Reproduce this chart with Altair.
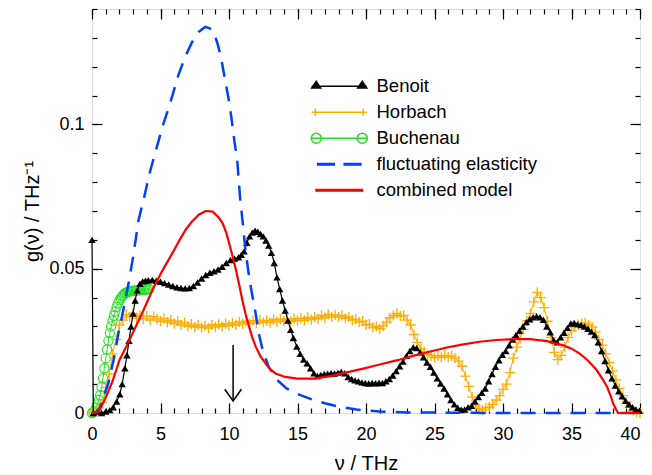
import altair as alt
import pandas as pd

# ---------------- data ----------------
benoit_x = [0.0, 0.1, 0.4, 0.7, 1.0, 1.3, 1.55, 1.8, 2.03, 2.2, 2.4, 2.55, 2.7, 2.85, 3.0, 3.15, 3.3, 3.5, 3.7, 3.9,
            4.1, 4.4, 4.7, 5.0, 5.3, 5.6, 5.9, 6.2, 6.5, 6.8, 7.1, 7.4, 7.7, 8.0, 8.3, 8.6, 8.9, 9.2, 9.5, 9.8,
            10.1, 10.4, 10.7, 10.9, 11.1, 11.3, 11.5, 11.7, 11.9, 12.1, 12.3, 12.5, 12.7, 12.9, 13.1, 13.3, 13.5, 13.7, 13.9, 14.1,
            14.3, 14.5, 14.7, 14.95, 15.2, 15.45, 15.7, 15.95, 16.2, 16.45, 16.7, 16.95, 17.2, 17.45, 17.7, 17.95, 18.2, 18.45, 18.7, 18.95,
            19.2, 19.45, 19.7, 19.95, 20.2, 20.45, 20.7, 20.95, 21.2, 21.45, 21.7, 21.95, 22.2, 22.45, 22.7, 22.95, 23.2, 23.45, 23.7, 23.95,
            24.2, 24.45, 24.7, 24.95, 25.2, 25.45, 25.7, 25.95, 26.2, 26.45, 26.7, 26.95, 27.2, 27.45, 27.7, 27.95, 28.2, 28.45, 28.7, 28.95,
            29.2, 29.45, 29.7, 29.95, 30.2, 30.45, 30.7, 30.95, 31.2, 31.45, 31.7, 31.95, 32.2, 32.45, 32.7, 32.95, 33.2, 33.45, 33.7, 33.95,
            34.2, 34.45, 34.7, 34.95, 35.2, 35.45, 35.7, 35.95, 36.2, 36.45, 36.7, 36.95, 37.2, 37.45, 37.7, 37.95, 38.2, 38.45, 38.7, 38.95,
            39.2, 39.45, 39.7, 39.95]
benoit_y = [0.060, 0.0, 0.0005, 0.0, 0.0005, 0.001, 0.002, 0.004, 0.0065, 0.010, 0.0155, 0.020, 0.025, 0.030, 0.0345, 0.039, 0.0425, 0.0448, 0.0456, 0.0458,
            0.0460, 0.0461, 0.0458, 0.0455, 0.0450, 0.0445, 0.0440, 0.0436, 0.0433, 0.0432, 0.0433, 0.0440, 0.0452, 0.0466, 0.0478, 0.0486, 0.0491, 0.0497, 0.0507, 0.0520,
            0.0530, 0.0535, 0.0540, 0.0548, 0.0560, 0.0590, 0.0612, 0.0625, 0.0632, 0.0628, 0.0620, 0.0612, 0.0598, 0.0580, 0.0555, 0.0520, 0.0470, 0.0430, 0.0390, 0.0355,
            0.0320, 0.0288, 0.0260, 0.0230, 0.0205, 0.0185, 0.0172, 0.0155, 0.0138, 0.0128, 0.0132, 0.0135, 0.0136, 0.0138, 0.0137, 0.0140, 0.0143, 0.0138, 0.0125, 0.0118,
            0.0113, 0.0110, 0.0106, 0.0104, 0.0102, 0.0104, 0.0103, 0.0104, 0.0104, 0.0110, 0.0118, 0.0130, 0.0145, 0.0162, 0.0178, 0.0198, 0.0215, 0.0228, 0.0225, 0.0210,
            0.0193, 0.0175, 0.0160, 0.0140, 0.0120, 0.0102, 0.0085, 0.0065, 0.0045, 0.0030, 0.0018, 0.0011, 0.0012, 0.0020, 0.0025, 0.0040, 0.0055, 0.0070, 0.0085, 0.0110,
            0.0135, 0.0160, 0.0183, 0.0202, 0.0215, 0.0235, 0.0255, 0.0270, 0.0285, 0.0300, 0.0315, 0.0325, 0.0332, 0.0335, 0.0332, 0.0323, 0.0300, 0.0280, 0.0252, 0.0245,
            0.0262, 0.0278, 0.0295, 0.0310, 0.0312, 0.0308, 0.0305, 0.0300, 0.0292, 0.0282, 0.0270, 0.0245, 0.0215, 0.0180, 0.0148, 0.0120, 0.0095, 0.0075, 0.0058, 0.0042,
            0.0030, 0.0020, 0.0012, 0.0008]

horbach_x = [0.0] + [round(0.25 * i, 2) for i in range(1, 161)]
horbach_y = [0.0,
             0.0005, 0.0018, 0.0038, 0.0088, 0.0135, 0.0205, 0.0255, 0.0305,
             0.0322, 0.0341, 0.0332, 0.0345, 0.0328, 0.0338, 0.0326, 0.0336,
             0.0322, 0.0334, 0.0325, 0.0318, 0.0328, 0.0315, 0.0322, 0.0310,
             0.0318, 0.0305, 0.0312, 0.0300, 0.0308, 0.0298, 0.0305, 0.0296,
             0.0302, 0.0294, 0.0305, 0.0298, 0.0307, 0.0300, 0.0310, 0.0303,
             0.0312, 0.0305, 0.0316, 0.0309, 0.0318, 0.0310, 0.0320, 0.0312,
             0.0322, 0.0314, 0.0320, 0.0313, 0.0324, 0.0316, 0.0326, 0.0318,
             0.0325, 0.0317, 0.0327, 0.0320, 0.0328, 0.0321, 0.0331, 0.0324,
             0.0332, 0.0326, 0.0338, 0.0330, 0.0342, 0.0333, 0.0340, 0.0332,
             0.0338, 0.0328, 0.0333, 0.0322, 0.0325, 0.0315, 0.0318, 0.0305,
             0.0308, 0.0296, 0.0300, 0.0292, 0.0302, 0.0315, 0.0330, 0.0338,
             0.0345, 0.0336, 0.0338, 0.0322, 0.0305, 0.0272, 0.0245, 0.0222,
             0.0212, 0.0202, 0.0198, 0.0192, 0.0199, 0.0193, 0.0200, 0.0194,
             0.0198, 0.0190, 0.0180, 0.0162, 0.0128, 0.0092, 0.0055, 0.0025,
             0.0015, 0.0010, 0.0018, 0.0020, 0.0030, 0.0045, 0.0060, 0.0082,
             0.0100, 0.0140, 0.0190, 0.0228, 0.0258, 0.0290, 0.0320, 0.0345,
             0.0385, 0.0418, 0.0400, 0.0365, 0.0318, 0.0262, 0.0210, 0.0185,
             0.0200, 0.0228, 0.0262, 0.0285, 0.0298, 0.0305, 0.0310, 0.0312,
             0.0305, 0.0298, 0.0280, 0.0255, 0.0235, 0.0205, 0.0175, 0.0145,
             0.0115, 0.0085, 0.0060, 0.0038, 0.0020, 0.0008, 0.0003, 0.0]

buchenau_x = [round(0.1 * i, 1) for i in range(43)]
buchenau_y = [0.0, 0.0003, 0.0008, 0.0018, 0.0030, 0.0045, 0.0062, 0.0090, 0.0120, 0.0155,
              0.0190, 0.0220, 0.0250, 0.0277, 0.0300, 0.0320, 0.0337, 0.0352, 0.0368, 0.0380,
              0.0390, 0.0398, 0.0405, 0.0410, 0.0415, 0.0418, 0.0420, 0.0421, 0.0422, 0.0423,
              0.0423, 0.0425, 0.0424, 0.0426, 0.0425, 0.0427, 0.0426, 0.0428, 0.0427, 0.0429,
              0.0428, 0.0430, 0.0430]

fluct_x = [0.0, 0.3, 0.5, 0.8, 1.2, 1.6, 1.93, 2.3, 2.67, 3.0, 3.4, 3.76, 4.2, 4.6, 5.2, 5.7, 6.3, 6.8, 7.3, 7.77,
           8.26, 8.6, 8.9, 9.23, 9.5, 9.72, 10.0, 10.2, 10.4, 10.6, 10.8, 11.0, 11.2, 11.5, 11.9, 12.2, 12.5, 12.9, 13.5, 14.2,
           15.0, 16.0, 17.0, 18.0, 19.3, 21.0, 23.0, 26.0, 30.0, 40.0]
fluct_y = [0.0, 0.0003, 0.001, 0.005, 0.0104, 0.019, 0.0277, 0.036, 0.045, 0.054, 0.0669, 0.0738, 0.083, 0.090, 0.100, 0.1073, 0.117, 0.1234, 0.1285, 0.132,
           0.1338, 0.1333, 0.132, 0.1269, 0.121, 0.1153, 0.108, 0.1015, 0.094, 0.0877, 0.075, 0.066, 0.0565, 0.046, 0.0357, 0.027, 0.021, 0.016, 0.0115, 0.0085,
           0.0066, 0.0048, 0.0034, 0.0022, 0.0012, 0.0005, 0.0002, 0.0001, 0.0, 0.0]

combined_x = [0.0, 0.5, 1.02, 1.5, 2.0, 2.5, 2.96, 3.7, 4.42, 5.1, 5.88, 6.4, 6.85, 7.3, 7.82, 8.3, 8.8, 9.2, 9.52, 9.8,
              10.0, 10.25, 10.5, 10.75, 10.98, 11.2, 11.46, 11.7, 11.95, 12.3, 12.68, 13.0, 13.4, 14.1, 15.0, 16.2, 17.4, 18.6, 19.8, 21.0,
              22.3, 23.5, 24.7, 25.9, 27.1, 28.3, 29.5, 30.8, 32.0, 33.2, 34.4, 35.0, 35.6, 36.2, 36.85, 37.3, 37.6, 37.85, 38.05, 38.25,
              38.4, 40.0]
combined_y = [0.0, 0.0005, 0.0055, 0.011, 0.0183, 0.023, 0.0276, 0.035, 0.0427, 0.049, 0.0555, 0.060, 0.0636, 0.0664, 0.0688, 0.070, 0.0698, 0.068, 0.0659, 0.0625,
              0.059, 0.0545, 0.0497, 0.0443, 0.039, 0.0345, 0.030, 0.0262, 0.023, 0.0196, 0.0171, 0.0152, 0.0137, 0.0125, 0.0119, 0.0119, 0.0128, 0.0141, 0.0154, 0.0168,
              0.0183, 0.0199, 0.0213, 0.0227, 0.0238, 0.0247, 0.0253, 0.0256, 0.0256, 0.0249, 0.0235, 0.0223, 0.0206, 0.0182, 0.0148, 0.0115, 0.009, 0.006, 0.0032, 0.0012,
              0.0, 0.0]

arrow_x = [10.3]
arrow_top = [0.0236]
arrow_tip = [0.0042]

series_names = ["Benoit", "Horbach", "Buchenau", "fluctuating elasticity", "combined model"]
series_colors = ["#000000", "#ffad00", "#22e022", "#0040ff", "#ff0000"]

x_major = list(range(0, 41, 5))
x_minor = list(range(0, 41))
y_major = [0, 0.05, 0.1]
y_minor = [round(0.01 * i, 2) for i in range(15)]

# ---------------- styles ----------------
FONT = "Liberation Sans"
W, H = 548, 404
xs = alt.Scale(domain=[0, 40], nice=False, zero=False)
ys = alt.Scale(domain=[0, 0.14], nice=False, zero=False)


def tri_fill(c):
    parts = [f"M{c-1.12:.2f},0.42L{c:.2f},-1.25L{c+1.12:.2f},0.42Z"]
    yv = 0.42
    while yv > -1.25:
        hw = 1.12 * (yv + 1.25) / 1.67
        parts.append(f"M{c-hw:.2f},{yv:.2f}L{c+hw:.2f},{yv:.2f}")
        yv -= 0.22
    return "".join(parts)


def circ(c, r=1.25):
    return f"M{c+r:.2f},0A{r},{r} 0 1,1 {c-r:.2f},0A{r},{r} 0 1,1 {c+r:.2f},0"


shape_paths = [
    "M-6.9,0L6.9,0" + tri_fill(-5.75) + tri_fill(5.75),
    "M-6.9,0L6.9,0M-6,-0.9L-6,0.9M6,-0.9L6,0.9",
    "M-6.9,0L6.9,0" + circ(-5.75) + circ(5.75),
    "M-5.6,-0.19L-1.05,-0.19M1.05,-0.19L5.6,-0.19M-5.6,0.19L-1.05,0.19M1.05,0.19L5.6,0.19",
    "M-6,-0.19L6,-0.19M-6,0.19L6,0.19",
]


def tick_axis(orient, values, size):
    # ticks pointing into the plot (negative size given through an expression)
    return alt.Axis(orient=orient, values=values, labels=False, domain=False, grid=False, ticks=True,
                    tickColor="black", tickWidth=1.2, tickSize={"expr": str(-size)}, title=None)


ax_x_labels = alt.Axis(orient="bottom", values=x_major, ticks=False, domain=False, grid=False,
                       labelFont=FONT, labelFontSize=18, labelColor="black", labelPadding=12,
                       labelFlush=False,
                       labelAlign={"condition": {"test": "datum.value >= 40", "value": "right"},
                                   "value": "center"},
                       title="ν / THz", titleFont=FONT, titleFontSize=20,
                       titleFontWeight="normal", titleColor="black", titlePadding=10)
ax_y_labels = alt.Axis(orient="left", values=y_major, format="~g", ticks=False, domain=False, grid=False,
                       labelFont=FONT, labelFontSize=18, labelColor="black", labelPadding=8,
                       labelFlush=False, title="g(ν) / THz⁻¹", titleFont=FONT, titleFontSize=20,
                       titleFontWeight="normal", titleColor="black", titlePadding=6)

x_axes = [ax_x_labels,
          tick_axis("bottom", x_major, 10), tick_axis("bottom", x_minor, 5),
          tick_axis("top", x_major, 10), tick_axis("top", x_minor, 5)]
y_axes = [ax_y_labels,
          tick_axis("left", y_major, 10), tick_axis("left", y_minor, 5),
          tick_axis("right", y_major, 10), tick_axis("right", y_minor, 5)]

df_b = pd.DataFrame({"x": benoit_x, "y": benoit_y})
df_h = pd.DataFrame({"x": horbach_x, "y": horbach_y})
df_c = pd.DataFrame({"x": buchenau_x, "y": buchenau_y})
df_f = pd.DataFrame({"x": fluct_x, "y": fluct_y})
df_m = pd.DataFrame({"x": combined_x, "y": combined_y})
df_a = pd.DataFrame({"x": arrow_x, "y": arrow_top, "y2": arrow_tip})
df_leg = pd.DataFrame({"series": series_names, "x": [-10] * 5, "y": [0.0] * 5})


def enc(i=None):
    xa = x_axes[i] if i is not None else None
    ya = y_axes[i] if i is not None else None
    return dict(x=alt.X("x:Q", scale=xs, axis=xa), y=alt.Y("y:Q", scale=ys, axis=ya))


buch_line = alt.Chart(df_c).mark_line(color=series_colors[2], strokeWidth=1).encode(**enc(0))
buch_pts = alt.Chart(df_c).mark_point(shape="circle", filled=False, color=series_colors[2],
                                      strokeWidth=1.1, size=85, opacity=1).encode(**enc(1))
horb_line = alt.Chart(df_h).mark_line(color=series_colors[1], strokeWidth=1).encode(**enc(2))
horb_pts = alt.Chart(df_h).mark_point(shape="M-1,0L1,0M0,-1L0,1", filled=False, color=series_colors[1],
                                      strokeWidth=1.3, size=105, opacity=1).encode(**enc(3))
ben_line = alt.Chart(df_b).mark_line(color="black", strokeWidth=1.2).encode(**enc(4))
ben_pts = alt.Chart(df_b).mark_point(shape="triangle-up", filled=True, color="black",
                                     size=55, opacity=1).encode(**enc())
fluct_line = alt.Chart(df_f).mark_line(color=series_colors[3], strokeWidth=2.5,
                                       strokeDash=[15, 10]).encode(**enc())
comb_line = alt.Chart(df_m).mark_line(color=series_colors[4], strokeWidth=2.2).encode(**enc())

arrow_shaft = alt.Chart(df_a).mark_rule(color="black", strokeWidth=1.5).encode(
    x=alt.X("x:Q", scale=xs, axis=None), y=alt.Y("y:Q", scale=ys, axis=None), y2="y2:Q")
arrow_head = alt.Chart(df_a).mark_point(shape="M-1.04,-1.46L0,0L1.04,-1.46", filled=False,
                                        color="black", strokeWidth=1.5, size=256, opacity=1).encode(
    x=alt.X("x:Q", scale=xs, axis=None), y=alt.Y("y2:Q", scale=ys, axis=None))

leg_kw = dict(orient="none", legendX=214, legendY=68, direction="vertical", title=None,
              labelFont=FONT, labelFontSize=18.5, labelColor="black", labelOffset=28,
              symbolOffset=24, rowPadding=7.0, padding=0, symbolSize=64,
              symbolStrokeWidth=1.5, labelLimit=400)
legend_layer = alt.Chart(df_leg).mark_point(filled=False, clip=True, strokeWidth=1.5, opacity=1).encode(
    x=alt.X("x:Q", scale=xs, axis=None),
    y=alt.Y("y:Q", scale=ys, axis=None),
    color=alt.Color("series:N", scale=alt.Scale(domain=series_names, range=series_colors),
                    legend=alt.Legend(**leg_kw)),
    shape=alt.Shape("series:N", scale=alt.Scale(domain=series_names, range=shape_paths),
                    legend=alt.Legend(**leg_kw)),
)

chart = alt.layer(
    buch_line, buch_pts, horb_line, horb_pts, ben_line, ben_pts, fluct_line, comb_line,
    arrow_shaft, arrow_head, legend_layer
).resolve_axis(x="independent", y="independent").properties(
    width=W, height=H,
    autosize=alt.AutoSizeParams(type="none"),
    padding={"left": 84, "top": 1, "right": 4, "bottom": 62},
).configure_view(stroke="black", strokeWidth=1.5).configure(background="white")

chart.save("out.html", embed_options={"renderer": "svg", "actions": False})
